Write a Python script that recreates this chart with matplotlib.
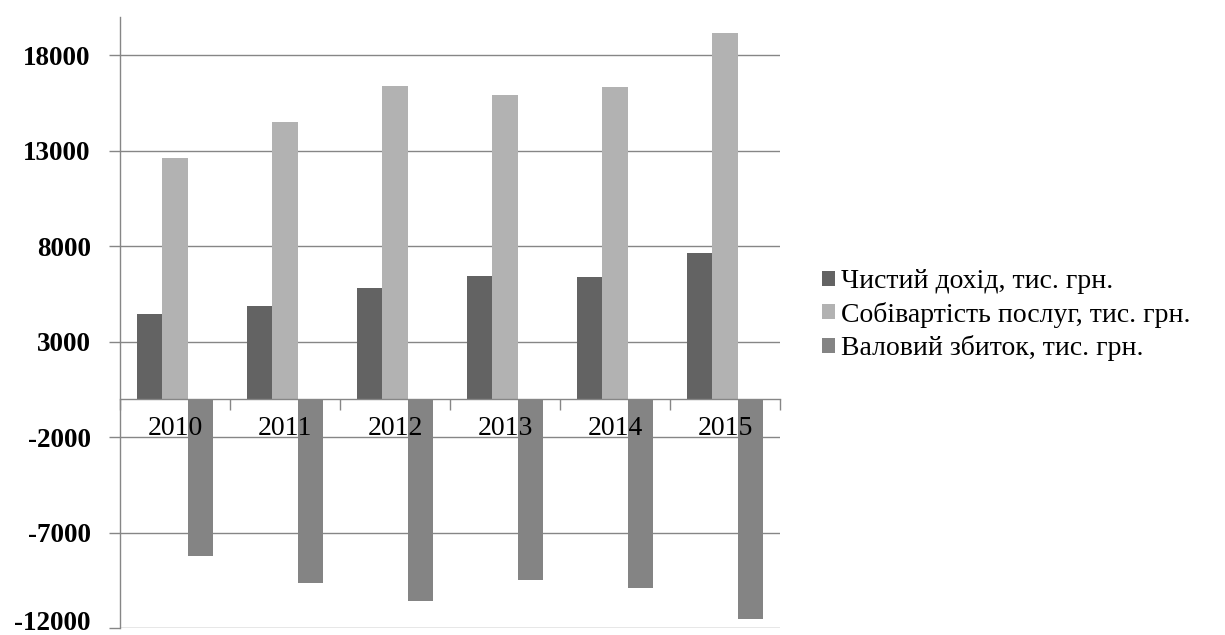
import numpy as np
import matplotlib
matplotlib.use("Agg")
import matplotlib.pyplot as plt
import matplotlib.transforms as mtransforms

# ── Data (тис. грн.) ──────────────────────────────────────────────────────────
years            = ["2010", "2011", "2012", "2013", "2014", "2015"]
net_income       = [4420, 4860, 5790, 6440, 6370, 7640]
cost_of_services = [12600, 14500, 16400, 15930, 16350, 19150]
gross_loss       = [-8250, -9660, -10560, -9500, -9930, -11510]

series_names = [
    "Чистий дохід, тис. грн.",
    "Собівартість послуг, тис. грн.",
    "Валовий збиток, тис. грн.",
]
y_ticks = [-12000, -7000, -2000, 3000, 8000, 13000, 18000]

# ── Style ─────────────────────────────────────────────────────────────────────
COLORS    = ["#636363", "#b2b2b2", "#848484"]
LINE_GRAY = "#868686"
BAR_WIDTH = 0.23

plt.rcParams["font.family"] = ["Liberation Serif", "DejaVu Serif"]

fig = plt.figure(figsize=(12.25, 6.35), dpi=100)
ax = fig.add_axes([120 / 1225, 1 - 628 / 635, 660 / 1225, 611 / 635])

x = np.arange(len(years))
for i, (vals, name, color) in enumerate(
        zip([net_income, cost_of_services, gross_loss], series_names, COLORS)):
    ax.bar(x + (i - 1) * BAR_WIDTH, vals, width=BAR_WIDTH,
           color=color, label=name, zorder=1)

# horizontal gridlines behind the bars
for v in y_ticks:
    ax.axhline(v, color=LINE_GRAY, linewidth=1.0, zorder=0.5)

ax.set_xlim(-0.5, len(years) - 0.5)
ax.set_ylim(-12000, 20000)

ax.set_yticks(y_ticks)
ax.set_yticklabels([str(v) for v in y_ticks], fontsize=19.5, fontweight="bold")
ax.tick_params(axis="y", direction="out", length=8, width=1.0,
               color=LINE_GRAY, pad=13)

# lift the lowest label so it stays inside the figure
fig.canvas.draw()
bottom_label = ax.get_yticklabels()[0]
bottom_label.set_transform(bottom_label.get_transform() +
                           mtransforms.ScaledTranslation(0, 7 / 100, fig.dpi_scale_trans))

# category axis sits on the zero line, ticks between categories
ax.spines["bottom"].set_position(("data", 0))
ax.set_xticks(x)
ax.set_xticklabels(years, fontsize=20)
ax.set_xticks(np.arange(len(years) + 1) - 0.5, minor=True)
ax.tick_params(axis="x", which="major", length=0, pad=12)
ax.tick_params(axis="x", which="minor", direction="out", length=8,
               width=1.0, color=LINE_GRAY)

for side in ["top", "right"]:
    ax.spines[side].set_visible(False)
for side in ["left", "bottom"]:
    ax.spines[side].set_color(LINE_GRAY)
    ax.spines[side].set_linewidth(1.0)

fig.legend(loc="center left", bbox_to_anchor=(822 / 1225, 1 - 315 / 635),
           frameon=False, fontsize=20, handlelength=0.45, handleheight=0.45,
           handletextpad=0.25, labelspacing=0.27, borderpad=0,
           borderaxespad=0)

fig.savefig("out.png", dpi=100)
